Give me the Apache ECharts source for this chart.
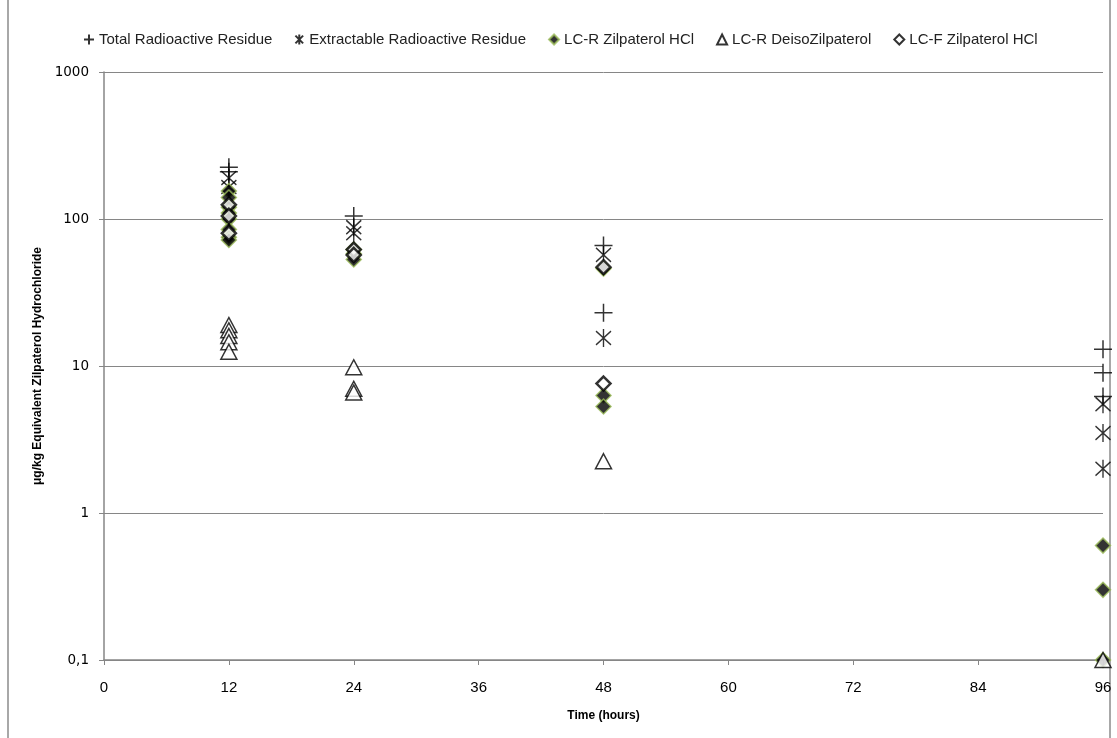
<!DOCTYPE html>
<html><head><meta charset="utf-8">
<script src="https://cdn.jsdelivr.net/npm/echarts@6/dist/echarts.min.js"></script>
<style>html,body{margin:0;padding:0;background:#fff}#c{width:1117px;height:738px}</style>
</head><body><div id="c"></div>
<script>
const seriesNames = ['Total Radioactive Residue','Extractable Radioactive Residue','LC-R Zilpaterol HCl','LC-R DeisoZilpaterol','LC-F Zilpaterol HCl'];
const xTicks = [0,12,24,36,48,60,72,84,96];
const yTicks = [0.1,1,10,100,1000];
const totalResidue = [[12,225],[12,210],[24,105],[48,66],[48,23],[96,13],[96,9],[96,6.2]];
const extractableResidue = [[12,190],[12,165],[24,88],[24,80],[48,57],[48,15.5],[96,5.5],[96,3.5],[96,2.0]];
const lcrZilpaterol = [[12,155],[12,140],[12,120],[12,110],[12,100],[12,85],[12,75],[12,72],[24,62],[24,58],[24,53],[48,46],[48,6.3],[48,5.3],[96,0.6],[96,0.3],[96,0.1]];
const lcrDeiso = [[12,19],[12,17.5],[12,16],[12,14.5],[12,12.5],[24,9.8],[24,7],[24,6.6],[48,2.25],[96,0.1]];
const lcfZilpaterol = [[12,125],[12,105],[12,80],[24,62],[24,57],[48,47],[48,7.6]];

const narrow = '"Liberation Sans Narrow","Liberation Sans",sans-serif';
const chart = echarts.init(document.getElementById('c'));
const plus = 'path://M0,-1L0,1M-1,0L1,0';
const star = 'path://M-1,-1L1,1M1,-1L-1,1M0,-1.3L0,1.3';
chart.setOption({
  animation:false,
  backgroundColor:'#fff',
  graphic:[{type:'rect',shape:{x:8,y:-2,width:1102,height:742},style:{fill:'none',stroke:'#8c8c8c',lineWidth:1.5},silent:true}],
  legend:{
    top:27,left:78,itemGap:22,itemWidth:10,itemHeight:10,
    textStyle:{fontFamily:narrow,fontSize:15,color:'#222'},
    data:seriesNames
  },
  grid:{left:104,right:14,top:72,bottom:78},
  xAxis:{
    type:'value',min:0,max:96,interval:12,
    name:'Time (hours)',nameLocation:'middle',nameGap:50,
    nameTextStyle:{fontFamily:narrow,fontSize:12,fontWeight:'bold',color:'#000'},
    axisLine:{lineStyle:{color:'#868686',width:1.5}},
    axisTick:{show:true,length:5,lineStyle:{color:'#868686'}},
    axisLabel:{fontFamily:narrow,fontSize:15,color:'#000',margin:20,formatter:v=>xTicks.includes(v)?String(v):''},
    splitLine:{show:false}
  },
  yAxis:{
    type:'log',logBase:10,min:0.1,max:1000,
    name:'μg/kg Equivalent Zilpaterol Hydrochloride',nameLocation:'middle',nameGap:60,
    nameTextStyle:{fontFamily:narrow,fontSize:12,fontWeight:'bold',color:'#000'},
    axisLine:{show:true,lineStyle:{color:'#868686',width:1.5}},
    axisTick:{show:true,length:5,lineStyle:{color:'#868686'}},
    axisLabel:{fontFamily:'"DejaVu Sans",sans-serif',fontSize:13.5,color:'#000',margin:15,
      formatter:v=>{const t=yTicks.find(k=>Math.abs(k-v)/k<1e-6);return t===undefined?'':String(t).replace('.',',');}},
    splitLine:{show:true,lineStyle:{color:'#868686',width:1}}
  },
  series:[
    {name:seriesNames[0],type:'scatter',data:totalResidue,symbol:plus,symbolSize:18,
     itemStyle:{color:'rgba(0,0,0,0)',borderColor:'#000',borderWidth:1.5}},
    {name:seriesNames[1],type:'scatter',data:extractableResidue,symbol:star,symbolSize:[15,18],
     itemStyle:{color:'rgba(0,0,0,0)',borderColor:'#000',borderWidth:1.5}},
    {name:seriesNames[2],type:'scatter',data:lcrZilpaterol,symbol:'diamond',symbolSize:15,
     itemStyle:{color:'#000',borderColor:'#9bbb59',borderWidth:1.5}},
    {name:seriesNames[3],type:'scatter',data:lcrDeiso,symbol:'triangle',symbolSize:[16,15],
     itemStyle:{color:'#fff',borderColor:'#000',borderWidth:1.5}},
    {name:seriesNames[4],type:'scatter',data:lcfZilpaterol,symbol:'diamond',symbolSize:14,
     itemStyle:{color:'#fff',borderColor:'#000',borderWidth:2.5}}
  ]
});
</script></body></html>
